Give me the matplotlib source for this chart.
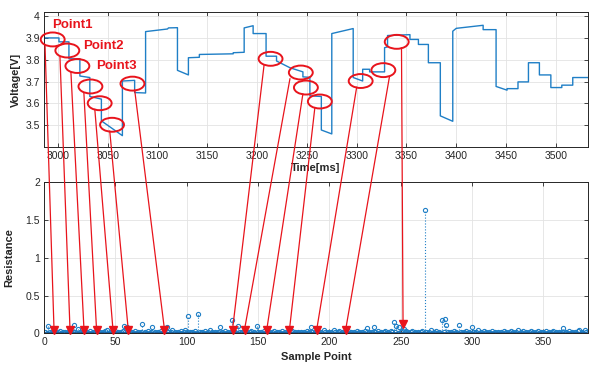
import numpy as np
import matplotlib
matplotlib.use("Agg")
matplotlib.rcParams.update({
    'font.family': ['Liberation Sans', 'DejaVu Sans'],
})
import matplotlib.pyplot as plt
from matplotlib.patches import Ellipse, ConnectionPatch

BLUE = "#1f7fc6"
RED = "#E8141C"
INK = "#262626"
GRID = "#e3e3e3"

# ── Voltage trace (step-like) ────────────────────────────────────────────────
time_ms = [2986, 3001, 3001, 3011, 3011, 3022, 3022, 3032, 3032, 3043.6,
           3043.6, 3064.7, 3064.7, 3077, 3077, 3088, 3088, 3110, 3111, 3120,
           3120, 3131, 3131, 3142, 3142, 3176, 3176, 3187, 3187, 3196,
           3196, 3209, 3209, 3219.5, 3219.5, 3233, 3246, 3246, 3253, 3253,
           3264.5, 3264.5, 3275, 3275, 3296.5, 3296.5, 3306, 3306, 3313, 3313,
           3328, 3328, 3331, 3331, 3353.5, 3353.5, 3362, 3362, 3372, 3372,
           3384, 3384, 3396.5, 3396.5, 3400, 3427, 3427, 3440, 3440, 3451,
           3451, 3462, 3462, 3472.5, 3472.5, 3483.5, 3483.5, 3495, 3495, 3506,
           3506, 3517, 3517, 3533]
voltage = [3.901, 3.901, 3.883, 3.883, 3.805, 3.805, 3.726, 3.719, 3.632, 3.620,
           3.520, 3.452, 3.703, 3.706, 3.650, 3.648, 3.930, 3.942, 3.947, 3.948,
           3.752, 3.731, 3.810, 3.812, 3.825, 3.828, 3.833, 3.835, 3.947, 3.957,
           3.921, 3.921, 3.817, 3.817, 3.795, 3.764, 3.745, 3.722, 3.720, 3.635,
           3.632, 3.478, 3.460, 3.921, 3.944, 3.719, 3.703, 3.757, 3.757, 3.745,
           3.745, 3.856, 3.860, 3.912, 3.916, 3.894, 3.894, 3.871, 3.871, 3.787,
           3.787, 3.543, 3.518, 3.932, 3.945, 3.959, 3.939, 3.939, 3.678, 3.661,
           3.668, 3.668, 3.699, 3.699, 3.787, 3.787, 3.731, 3.731, 3.673, 3.673,
           3.684, 3.684, 3.719, 3.719]

# ── Resistance per sample point (1..380) ─────────────────────────────────────
resistance = [
    0.02, 0.01, 0.10, 0.02, 0.01, 0.03, 0.01, 0.02, 0.01, 0.02, 0.03, 0.01, 0.02, 0.01, 0.02, 0.01, 0.02, 0.03, 0.01, 0.02,
    0.11, 0.02, 0.01, 0.06, 0.02, 0.01, 0.02, 0.04, 0.01, 0.02, 0.01, 0.03, 0.01, 0.02, 0.01, 0.02, 0.07, 0.01, 0.02, 0.01,
    0.02, 0.01, 0.03, 0.05, 0.01, 0.02, 0.01, 0.02, 0.01, 0.03, 0.01, 0.02, 0.01, 0.02, 0.03, 0.10, 0.02, 0.08, 0.01, 0.02,
    0.01, 0.02, 0.01, 0.03, 0.01, 0.02, 0.01, 0.02, 0.13, 0.01, 0.02, 0.01, 0.03, 0.01, 0.02, 0.08, 0.01, 0.02, 0.01, 0.02,
    0.01, 0.03, 0.01, 0.02, 0.01, 0.08, 0.02, 0.01, 0.02, 0.05, 0.01, 0.02, 0.01, 0.02, 0.01, 0.03, 0.01, 0.02, 0.05, 0.02,
    0.23, 0.02, 0.01, 0.02, 0.01, 0.03, 0.01, 0.26, 0.02, 0.01, 0.02, 0.01, 0.03, 0.01, 0.02, 0.04, 0.01, 0.02, 0.01, 0.02,
    0.01, 0.02, 0.08, 0.01, 0.02, 0.01, 0.03, 0.01, 0.02, 0.01, 0.02, 0.18, 0.01, 0.02, 0.01, 0.10, 0.02, 0.01, 0.02, 0.03,
    0.01, 0.02, 0.01, 0.02, 0.03, 0.01, 0.02, 0.01, 0.10, 0.02, 0.01, 0.02, 0.01, 0.03, 0.01, 0.02, 0.01, 0.02, 0.01, 0.02,
    0.03, 0.01, 0.02, 0.01, 0.02, 0.01, 0.03, 0.01, 0.02, 0.01, 0.02, 0.01, 0.02, 0.03, 0.01, 0.02, 0.01, 0.02, 0.01, 0.02,
    0.01, 0.02, 0.01, 0.03, 0.01, 0.02, 0.09, 0.02, 0.01, 0.02, 0.01, 0.03, 0.01, 0.02, 0.01, 0.05, 0.02, 0.01, 0.02, 0.01,
    0.02, 0.01, 0.05, 0.02, 0.01, 0.02, 0.03, 0.01, 0.02, 0.01, 0.02, 0.01, 0.03, 0.01, 0.02, 0.01, 0.02, 0.01, 0.03, 0.01,
    0.02, 0.01, 0.02, 0.01, 0.03, 0.07, 0.01, 0.02, 0.01, 0.02, 0.08, 0.02, 0.01, 0.03, 0.01, 0.02, 0.01, 0.02, 0.03, 0.01,
    0.02, 0.01, 0.03, 0.02, 0.15, 0.02, 0.10, 0.01, 0.09, 0.02, 0.03, 0.06, 0.02, 0.03, 0.02, 0.01, 0.02, 0.03, 0.01, 0.02,
    0.01, 0.02, 0.01, 0.02, 0.03, 0.01, 1.63, 0.02, 0.01, 0.02, 0.05, 0.01, 0.02, 0.01, 0.03, 0.01, 0.02, 0.01, 0.17, 0.02,
    0.19, 0.11, 0.02, 0.01, 0.02, 0.01, 0.03, 0.01, 0.02, 0.01, 0.11, 0.02, 0.01, 0.02, 0.01, 0.03, 0.01, 0.02, 0.01, 0.08,
    0.02, 0.01, 0.02, 0.04, 0.01, 0.02, 0.01, 0.03, 0.01, 0.02, 0.01, 0.02, 0.01, 0.03, 0.01, 0.02, 0.01, 0.02, 0.01, 0.02,
    0.01, 0.03, 0.01, 0.02, 0.01, 0.02, 0.03, 0.01, 0.02, 0.01, 0.02, 0.04, 0.01, 0.02, 0.01, 0.03, 0.01, 0.02, 0.01, 0.02,
    0.03, 0.01, 0.02, 0.01, 0.02, 0.03, 0.01, 0.02, 0.01, 0.02, 0.01, 0.03, 0.01, 0.02, 0.01, 0.02, 0.03, 0.01, 0.02, 0.01,
    0.02, 0.01, 0.02, 0.07, 0.01, 0.02, 0.01, 0.03, 0.01, 0.02, 0.01, 0.02, 0.01, 0.03, 0.05, 0.01, 0.02, 0.01, 0.04, 0.02,
]
sample = np.arange(1, len(resistance) + 1)

# ── Marked points: circle on voltage trace -> sample point ───────────────────
circ_t = [2994.7, 3009.4, 3019.5, 3032.6, 3041.9, 3054.3, 3074.8,
          3213.5, 3243.9, 3249.0, 3263.0, 3304.0, 3326.8, 3340.2]
circ_v = [3.894, 3.843, 3.772, 3.678, 3.601, 3.502, 3.691,
          3.805, 3.742, 3.673, 3.609, 3.703, 3.753, 3.883]
line_t0 = [2987, 3002, 3013, 3026, 3037, 3052, 3077,
           3207, 3233, 3246, 3258, 3300, 3333, 3345]
target_s = [7.0, 18.2, 28.0, 36.8, 48.3, 59.0, 84.4,
            132.1, 140.5, 156.1, 172.0, 191.1, 211.4, 251.6]
target_r = [0.02, 0.02, 0.02, 0.02, 0.02, 0.02, 0.02,
            0.02, 0.02, 0.02, 0.02, 0.02, 0.02, 0.10]
point_labels = ["Point1", "Point2", "Point3"]
label_t = [2994, 3025, 3038]
label_v = [3.962, 3.866, 3.770]

# ── Figure ────────────────────────────────────────────────────────────────────
fig = plt.figure(figsize=(5.91, 3.65), dpi=100)
fig.patch.set_facecolor("white")
ax1 = fig.add_axes([0.0745, 0.5973, 0.9199, 0.3698])
ax2 = fig.add_axes([0.0745, 0.0868, 0.9199, 0.4137])


def matlab_style(ax):
    ax.grid(True, color=GRID, lw=0.6)
    ax.set_axisbelow(True)
    ax.tick_params(direction='in', length=3, width=0.6, top=True, right=True,
                   labelsize=7.5, colors=INK, pad=3)
    for sp in ax.spines.values():
        sp.set_color(INK)
        sp.set_linewidth(0.7)


# top: voltage
ax1.plot(time_ms, voltage, color=BLUE, lw=1.0)
ax1.set_xlim(2986, 3532)
ax1.set_ylim(3.40, 4.02)
ax1.set_xticks(np.arange(3000, 3501, 50))
ax1.set_yticks([3.5, 3.6, 3.7, 3.8, 3.9, 4.0])
ax1.set_yticklabels(["3.5", "3.6", "3.7", "3.8", "3.9", "4"])
matlab_style(ax1)
ax1.set_xlabel("Time[ms]", fontsize=8, fontweight='bold', color=INK, labelpad=1.5)
ax1.set_ylabel("Voltage[V]", fontsize=8, fontweight='bold', color=INK, labelpad=3)

for t, v in zip(circ_t, circ_v):
    ax1.add_patch(Ellipse((t, v), 24, 0.064, fill=False, ec=RED, lw=1.4,
                          clip_on=False, zorder=5))
for s, t, v in zip(point_labels, label_t, label_v):
    ax1.text(t, v, s, color=RED, fontsize=9.5, fontweight='bold',
             ha='left', va='center', zorder=6)

# bottom: resistance stem
ml, sl, bl = ax2.stem(sample, resistance, linefmt=':', markerfmt='o', basefmt='-')
sl.set_color(BLUE)
sl.set_linewidth(0.8)
ml.set_color(BLUE)
ml.set_markerfacecolor('none')
ml.set_markersize(3)
ml.set_markeredgewidth(0.8)
bl.set_color("#1a5f9e")
bl.set_linewidth(2.0)
ax2.set_xlim(0, 381)
ax2.set_ylim(0, 2)
ax2.set_xticks(np.arange(0, 351, 50))
ax2.set_yticks([0, 0.5, 1, 1.5, 2])
ax2.set_yticklabels(["0", "0.5", "1", "1.5", "2"])
matlab_style(ax2)
ax2.set_xlabel("Sample Point", fontsize=8, fontweight='bold', color=INK, labelpad=3)
ax2.set_ylabel("Resistance", fontsize=8, fontweight='bold', color=INK, labelpad=8)

# connecting red lines with triangle heads
for t0, v, s, r in zip(line_t0, circ_v, target_s, target_r):
    con = ConnectionPatch(xyA=(t0, v - 0.028), coordsA=ax1.transData,
                          xyB=(s, r + 0.03), coordsB=ax2.transData,
                          color=RED, lw=0.9, zorder=7)
    fig.add_artist(con)
ax2.plot(target_s, np.array(target_r) + 0.03, 'v', color=RED, markersize=5.5,
         zorder=8, clip_on=False)

plt.savefig("out.png", dpi=100, facecolor="white")
